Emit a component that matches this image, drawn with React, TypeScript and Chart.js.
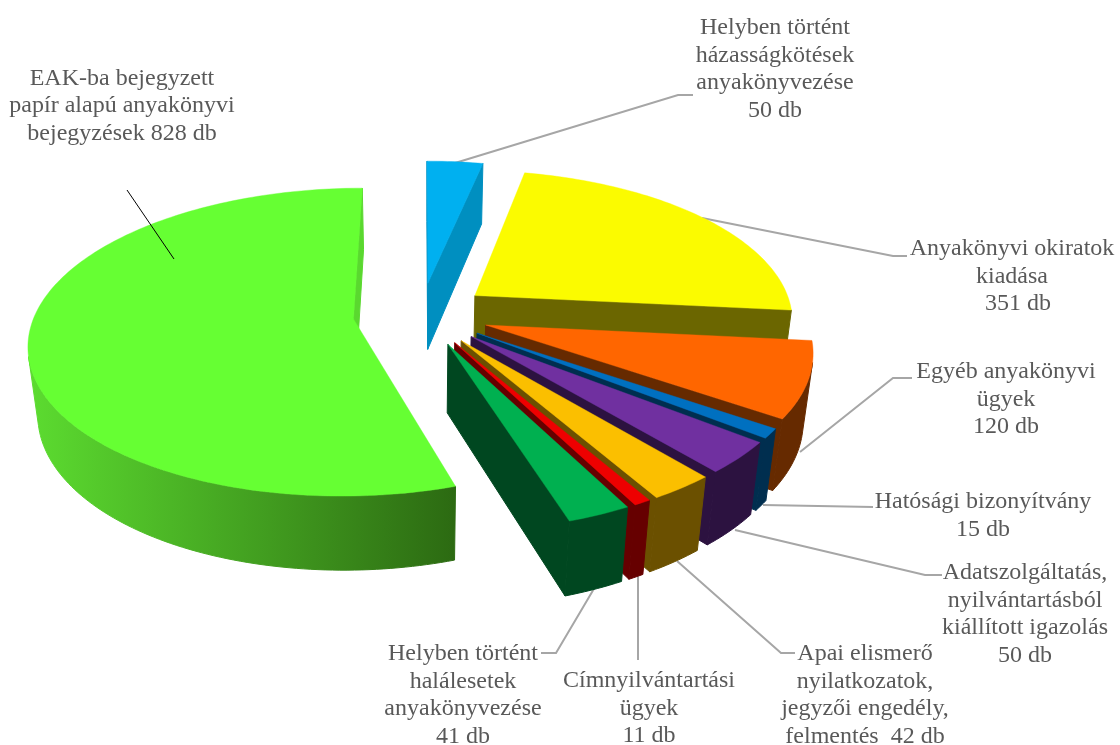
import React, { useEffect, useRef } from "react";
import { Chart, PieController, ArcElement } from "chart.js";

const categories = [
  "Helyben történt házasságkötések anyakönyvezése",
  "Anyakönyvi okiratok kiadása",
  "Egyéb anyakönyvi ügyek",
  "Hatósági bizonyítvány",
  "Adatszolgáltatás, nyilvántartásból kiállított igazolás",
  "Apai elismerő nyilatkozatok, jegyzői engedély, felmentés",
  "Címnyilvántartási ügyek",
  "Helyben történt halálesetek anyakönyvezése",
  "EAK-ba bejegyzett papír alapú anyakönyvi bejegyzések",
];
const values = [50, 351, 120, 15, 50, 42, 11, 41, 828];
const topColors = ["#00b0f0", "#fbfb00", "#ff6600", "#0070c0", "#7030a0", "#fbbf00", "#ee0000", "#00b050", "#66ff33"];
const faceColors = ["#008fc0", "#6b6600", "#662a00", "#002e4f", "#2c1240", "#6b5000", "#660000", "#004720", "#5ad82f"];
const wallStart = ["#008fc0", "#6b6600", "#662a00", "#002e4f", "#2c1240", "#6b5000", "#660000", "#004720", "#5cdc30"];
const wallEnd = ["#008fc0", "#6b6600", "#662a00", "#002e4f", "#2c1240", "#6b5000", "#660000", "#004720", "#2c6a12"];

const labelBlocks: { x: number; y: number; lines: string[] }[] = [
  { x: 775, y: 28, lines: ["Helyben történt", "házasságkötések", "anyakönyvezése", "50 db"] },
  { x: 1012, y: 249, lines: ["Anyakönyvi okiratok", "kiadása", "  351 db"] },
  { x: 1006, y: 372, lines: ["Egyéb anyakönyvi", "ügyek", "120 db"] },
  { x: 983, y: 502, lines: ["Hatósági bizonyítvány", "15 db"] },
  { x: 1025, y: 573, lines: ["Adatszolgáltatás,", "nyilvántartásból", "kiállított igazolás", "50 db"] },
  { x: 865, y: 654, lines: ["Apai elismerő", "nyilatkozatok,", "jegyzői engedély,", "felmentés  42 db"] },
  { x: 649, y: 681, lines: ["Címnyilvántartási", "ügyek", "11 db"] },
  { x: 463, y: 654, lines: ["Helyben történt", "halálesetek", "anyakönyvezése", "41 db"] },
  { x: 122, y: 78.5, lines: ["EAK-ba bejegyzett", "papír alapú anyakönyvi", "bejegyzések 828 db"] },
];
const leaderLines: number[][][] = [
  [[455, 163], [678, 95], [693, 95]],
  [[702, 218], [893, 256], [907, 256]],
  [[800, 452], [893, 378], [912, 378]],
  [[763, 505], [873, 507]],
  [[735, 530], [925, 575], [942, 575]],
  [[677, 561], [781, 653], [795, 653]],
  [[638, 575], [638, 660]],
  [[595, 587], [556, 653], [541, 653]],
];
const pointerLine = [[127, 190], [174, 259]];

// 3D view of the pie (projection settings)
const CX = 421, CY = 314, RX = 318.5, RY = 149, P = 0.15, Q = 0.025, H = 69;
const project = (x: number, y: number, d: number): [number, number] => {
  const w = 1 + P * y + Q * d;
  return [CX + (RX * x) / w, CY + (-RY * y + H * d) / w];
};
const area = (pts: number[][]) => {
  let s = 0;
  for (let i = 0; i < pts.length; i++) {
    const a = pts[i], b = pts[(i + 1) % pts.length];
    s += a[0] * b[1] - b[0] * a[1];
  }
  return s;
};
const fillPoly = (ctx: CanvasRenderingContext2D, pts: number[][], fill: any, seam = 0.4) => {
  ctx.beginPath();
  pts.forEach((p, i) => (i ? ctx.lineTo(p[0], p[1]) : ctx.moveTo(p[0], p[1])));
  ctx.closePath();
  ctx.fillStyle = fill;
  ctx.fill();
  ctx.strokeStyle = fill;
  ctx.lineWidth = seam;
  ctx.stroke();
};

function draw3DSlice(this: any, ctx: CanvasRenderingContext2D) {
  const { startAngle, endAngle, outerRadius } = this.getProps(["startAngle", "endAngle", "outerRadius"]) as any;
  const opts = this.options;
  const i = topColors.indexOf(opts.backgroundColor);
  const t1 = startAngle + Math.PI / 2, t2 = endAngle + Math.PI / 2;
  const o = opts.offset / outerRadius;
  const m = (t1 + t2) / 2;
  const ax = o * Math.sin(m), ay = o * Math.cos(m);
  const n = Math.max(2, Math.ceil((t2 - t1) / 0.02));
  const rim: number[][] = [];
  for (let k = 0; k <= n; k++) {
    const t = t1 + ((t2 - t1) * k) / n;
    rim.push([ax + Math.sin(t), ay + Math.cos(t)]);
  }
  const face = (u: number[], v: number[], color: any) => {
    const q = [project(u[0], u[1], 0), project(v[0], v[1], 0), project(v[0], v[1], 1), project(u[0], u[1], 1)];
    if (area(q) < 0) fillPoly(ctx, q, color, 1);
  };
  const apex = [ax, ay];
  ctx.save();
  face(apex, rim[0], faceColors[i]);
  face(rim[n], apex, faceColors[i]);
  // outer wall: runs of rim segments that face the viewer
  let run: number[][] = [];
  const flush = () => {
    if (run.length > 1) {
      const up = run.map((p) => project(p[0], p[1], 0));
      const lo = run.map((p) => project(p[0], p[1], 1)).reverse();
      const all = [...up, ...lo];
      const xs = all.map((p) => p[0]);
      const g = ctx.createLinearGradient(Math.min(...xs), 0, Math.max(...xs), 0);
      g.addColorStop(0, wallStart[i]);
      g.addColorStop(1, wallEnd[i]);
      fillPoly(ctx, all, g, 1);
    }
    run = [];
  };
  for (let k = 0; k < n; k++) {
    const u = rim[k], v = rim[k + 1];
    const q = [project(u[0], u[1], 0), project(v[0], v[1], 0), project(v[0], v[1], 1), project(u[0], u[1], 1)];
    if (area(q) < 0) {
      if (!run.length) run.push(u);
      run.push(v);
    } else flush();
  }
  flush();
  // top surface
  fillPoly(ctx, [project(ax, ay, 0), ...rim.map((p) => project(p[0], p[1], 0))], opts.backgroundColor);
  ctx.restore();
}
(ArcElement.prototype as any).draw = draw3DSlice;

const labelPlugin = {
  id: "pieLabels",
  beforeDatasetsDraw(chart: any) {
    const ctx: CanvasRenderingContext2D = chart.ctx;
    ctx.save();
    ctx.strokeStyle = "#a6a6a6";
    ctx.lineWidth = 2;
    leaderLines.forEach((l) => {
      ctx.beginPath();
      l.forEach((p, i) => (i ? ctx.lineTo(p[0], p[1]) : ctx.moveTo(p[0], p[1])));
      ctx.stroke();
    });
    ctx.restore();
  },
  afterDatasetsDraw(chart: any) {
    const ctx: CanvasRenderingContext2D = chart.ctx;
    ctx.save();
    ctx.strokeStyle = "#000000";
    ctx.lineWidth = 1;
    ctx.beginPath();
    ctx.moveTo(pointerLine[0][0], pointerLine[0][1]);
    ctx.lineTo(pointerLine[1][0], pointerLine[1][1]);
    ctx.stroke();
    ctx.font = '24px "Liberation Serif"';
    ctx.fillStyle = "#595959";
    ctx.textAlign = "center";
    ctx.textBaseline = "middle";
    labelBlocks.forEach((b) => {
      b.lines.forEach((line, i) => ctx.fillText(line, b.x, b.y + i * 27.5));
    });
    ctx.restore();
  },
};

export default function App() {
  const ref = useRef<HTMLCanvasElement>(null);
  useEffect(() => {
    document.body.style.margin = "0";
    Chart.register(PieController, ArcElement);
    const chart = new Chart(ref.current!, {
      type: "pie",
      data: {
        labels: categories,
        datasets: [
          {
            data: values,
            backgroundColor: topColors,
            borderWidth: 0,
            offset: 71.9,
          },
        ],
      },
      options: {
        animation: false,
        responsive: false,
        events: [],
        plugins: { legend: { display: false }, tooltip: { enabled: false } },
      },
      plugins: [labelPlugin],
    } as any);
    return () => chart.destroy();
  }, []);
  return <canvas ref={ref} width={1120} height={745} style={{ display: "block" }} />;
}
